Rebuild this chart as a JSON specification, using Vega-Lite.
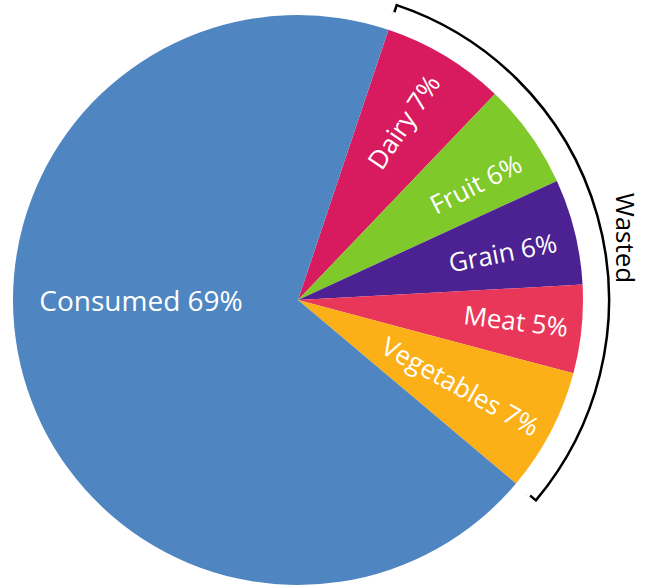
{
  "$schema": "https://vega.github.io/schema/vega-lite/v6.json",
  "width": 596,
  "height": 600,
  "autosize": {"type": "none"},
  "padding": {"left": 0, "top": 0, "right": 62, "bottom": 0},
  "background": "white",
  "config": {"view": {"stroke": null}, "text": {"font": "Open Sans"}},
  "data": {
    "values": [
      {"category": "Dairy", "pct": 7, "group": "Wasted", "rank": 1, "label": "Dairy 7%"},
      {"category": "Fruit", "pct": 6, "group": "Wasted", "rank": 2, "label": "Fruit 6%"},
      {"category": "Grain", "pct": 6, "group": "Wasted", "rank": 3, "label": "Grain 6%"},
      {"category": "Meat", "pct": 5, "group": "Wasted", "rank": 4, "label": "Meat 5%"},
      {"category": "Vegetables", "pct": 7, "group": "Wasted", "rank": 5, "label": "Vegetables 7%"},
      {"category": "Consumed", "pct": 69, "group": "Consumed", "rank": 6, "label": "Consumed 69%"}
    ]
  },
  "layer": [
    {
      "mark": {"type": "arc", "outerRadius": 285},
      "encoding": {
        "theta": {"field": "pct", "type": "quantitative", "stack": true, "scale": {"range": [0.323, 6.606]}},
        "order": {"field": "rank", "type": "quantitative"},
        "color": {
          "field": "category",
          "type": "nominal",
          "legend": null,
          "scale": {
            "domain": ["Dairy", "Fruit", "Grain", "Meat", "Vegetables", "Consumed"],
            "range": ["#d81b5f", "#7fc92a", "#4c2191", "#e9375a", "#fbb017", "#4f86c1"]
          }
        }
      }
    },
    {
      "transform": [
        {"filter": "datum.group === 'Wasted'"},
        {"aggregate": [{"op": "sum", "field": "pct", "as": "pct"}], "groupby": ["group"]}
      ],
      "layer": [
        {
          "mark": {"type": "arc", "innerRadius": 300, "outerRadius": 311, "fill": null, "fillOpacity": 0, "stroke": "black", "strokeWidth": 2.5},
          "encoding": {"theta": {"field": "pct", "type": "quantitative", "stack": true}}
        },
        {
          "mark": {"type": "arc", "innerRadius": 296, "outerRadius": 302, "fill": "white", "stroke": "white", "strokeWidth": 3},
          "encoding": {"theta": {"field": "pct", "type": "quantitative", "stack": true}}
        },
        {
          "mark": {"type": "text", "radius": 332, "thetaOffset": 0.086, "angle": 90, "fontSize": 26, "color": "black", "align": "center", "baseline": "middle"},
          "encoding": {
            "theta": {"field": "pct", "type": "quantitative", "stack": true},
            "text": {"field": "group"}
          }
        }
      ]
    },
    {
      "mark": {"type": "text", "radius": 207, "angle": 304, "fontSize": 26, "color": "white", "align": "center", "baseline": "middle"},
      "encoding": {
        "theta": {"field": "pct", "type": "quantitative", "stack": true},
        "order": {"field": "rank", "type": "quantitative"},
        "text": {"condition": {"test": "datum.category === 'Dairy'", "field": "label"}, "value": ""}
      }
    },
    {
      "mark": {"type": "text", "radius": 212, "thetaOffset": 0.049, "angle": 333, "fontSize": 26, "color": "white", "align": "center", "baseline": "middle"},
      "encoding": {
        "theta": {"field": "pct", "type": "quantitative", "stack": true},
        "order": {"field": "rank", "type": "quantitative"},
        "text": {"condition": {"test": "datum.category === 'Fruit'", "field": "label"}, "value": ""}
      }
    },
    {
      "mark": {"type": "text", "radius": 210, "thetaOffset": 0.023, "angle": 349, "fontSize": 26, "color": "white", "align": "center", "baseline": "middle"},
      "encoding": {
        "theta": {"field": "pct", "type": "quantitative", "stack": true},
        "order": {"field": "rank", "type": "quantitative"},
        "text": {"condition": {"test": "datum.category === 'Grain'", "field": "label"}, "value": ""}
      }
    },
    {
      "mark": {"type": "text", "radius": 219, "angle": 7, "fontSize": 26, "color": "white", "align": "center", "baseline": "middle"},
      "encoding": {
        "theta": {"field": "pct", "type": "quantitative", "stack": true},
        "order": {"field": "rank", "type": "quantitative"},
        "text": {"condition": {"test": "datum.category === 'Meat'", "field": "label"}, "value": ""}
      }
    },
    {
      "mark": {"type": "text", "radius": 184, "thetaOffset": 0.017, "angle": 29, "fontSize": 26, "color": "white", "align": "center", "baseline": "middle"},
      "encoding": {
        "theta": {"field": "pct", "type": "quantitative", "stack": true},
        "order": {"field": "rank", "type": "quantitative"},
        "text": {"condition": {"test": "datum.category === 'Vegetables'", "field": "label"}, "value": ""}
      }
    },
    {
      "mark": {"type": "text", "radius": 157, "thetaOffset": 0.255, "angle": 0, "fontSize": 28, "color": "white", "align": "center", "baseline": "middle"},
      "encoding": {
        "theta": {"field": "pct", "type": "quantitative", "stack": true},
        "order": {"field": "rank", "type": "quantitative"},
        "text": {"condition": {"test": "datum.category === 'Consumed'", "field": "label"}, "value": ""}
      }
    }
  ]
}
